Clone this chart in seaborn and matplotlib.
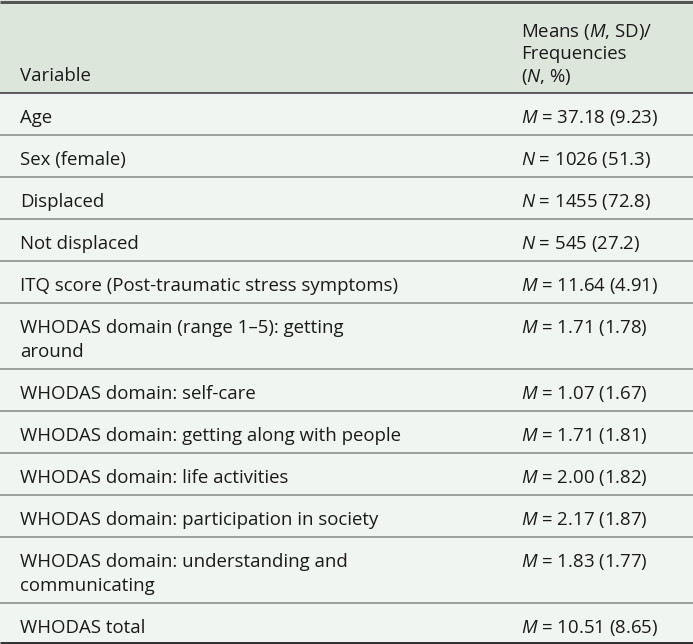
import matplotlib
matplotlib.use("Agg")
import matplotlib.pyplot as plt
import seaborn as sns

# ---------------- data ----------------
variables = [
    "Age",
    "Sex (female)",
    "Displaced",
    "Not displaced",
    "ITQ score (Post-traumatic stress symptoms)",
    "WHODAS domain (range 1\u20135): getting\naround",
    "WHODAS domain: self-care",
    "WHODAS domain: getting along with people",
    "WHODAS domain: life activities",
    "WHODAS domain: participation in society",
    "WHODAS domain: understanding and\ncommunicating",
    "WHODAS total",
]
stat_symbols = ["M", "N", "N", "N", "M", "M", "M", "M", "M", "M", "M", "M"]
main_values = ["37.18", "1026", "1455", "545", "11.64", "1.71", "1.07",
               "1.71", "2.00", "2.17", "1.83", "10.51"]
paren_values = ["9.23", "51.3", "72.8", "27.2", "4.91", "1.78", "1.67",
                "1.81", "1.82", "1.87", "1.77", "8.65"]
header_left = "Variable"
header_right = ["Means ($M$, SD)/", "Frequencies", "($N$, %)"]

# ---------------- style ----------------
sns.set_theme(style="white")
FONT = "Open Sans"
plt.rcParams["font.family"] = [FONT, "DejaVu Sans"]
plt.rcParams["mathtext.fontset"] = "custom"
plt.rcParams["mathtext.rm"] = FONT
plt.rcParams["mathtext.it"] = FONT + ":italic"

HEADER_BG = "#dde6da"
BODY_BG = "#f1f5f1"
TXT = "#1a1a1a"

W, H = 693, 644
fig = plt.figure(figsize=(W / 100, H / 100), dpi=100)
fig.patch.set_facecolor(BODY_BG)
ax = fig.add_axes([0, 0, 1, 1])
ax.set_xlim(0, W)
ax.set_ylim(H, 0)
ax.axis("off")

# fit font size so the longest single-line label matches the reference width
renderer = fig.canvas.get_renderer()
probe = ax.text(0, 0, "ITQ score (Post-traumatic stress symptoms)", fontsize=12)
wpx = probe.get_window_extent(renderer).width
probe.remove()
FS = 12 * 375.0 / wpx

PX = 72.0 / 100  # points per pixel
X_LEFT, X_RIGHT = 20, 521
HEADER_BOTTOM = 93
LINE_STEP = 24

# backgrounds
ax.axhspan(0, HEADER_BOTTOM, color=HEADER_BG, lw=0, zorder=0)
ax.axhspan(HEADER_BOTTOM, H, color=BODY_BG, lw=0, zorder=0)

# header
ax.text(X_LEFT, 81, header_left, fontsize=FS, color=TXT, va="baseline", ha="left")
for i, line in enumerate(header_right):
    ax.text(X_RIGHT, 36.5 + 22.5 * i, line, fontsize=FS, color=TXT,
            va="baseline", ha="left")

# body rows
top = HEADER_BOTTOM
for var, sym, mv, pv in zip(variables, stat_symbols, main_values, paren_values):
    lines = var.split("\n")
    h = 42 + LINE_STEP * (len(lines) - 1)
    for j, ln in enumerate(lines):
        ax.text(X_LEFT, top + 30 + LINE_STEP * j, ln, fontsize=FS, color=TXT,
                va="baseline", ha="left")
    ax.text(X_RIGHT, top + 30, f"${sym}$ = {mv} ({pv})", fontsize=FS,
            color=TXT, va="baseline", ha="left")
    bottom = top + h
    if bottom < H - 5:
        ax.plot([0, W], [bottom, bottom], color="#8c8c8c", lw=1.6 * PX,
                solid_capstyle="butt", zorder=3)
    top = bottom

# borders
ax.plot([0, W], [1.5, 1.5], color="#555555", lw=3 * PX, solid_capstyle="butt", zorder=4)
ax.plot([0, W], [HEADER_BOTTOM, HEADER_BOTTOM], color="#3a3a3a", lw=1.6 * PX,
        solid_capstyle="butt", zorder=4)
ax.plot([0, W], [H - 1.5, H - 1.5], color="#333333", lw=3 * PX,
        solid_capstyle="butt", zorder=4)

fig.savefig("out.png", dpi=100, facecolor=fig.get_facecolor())
